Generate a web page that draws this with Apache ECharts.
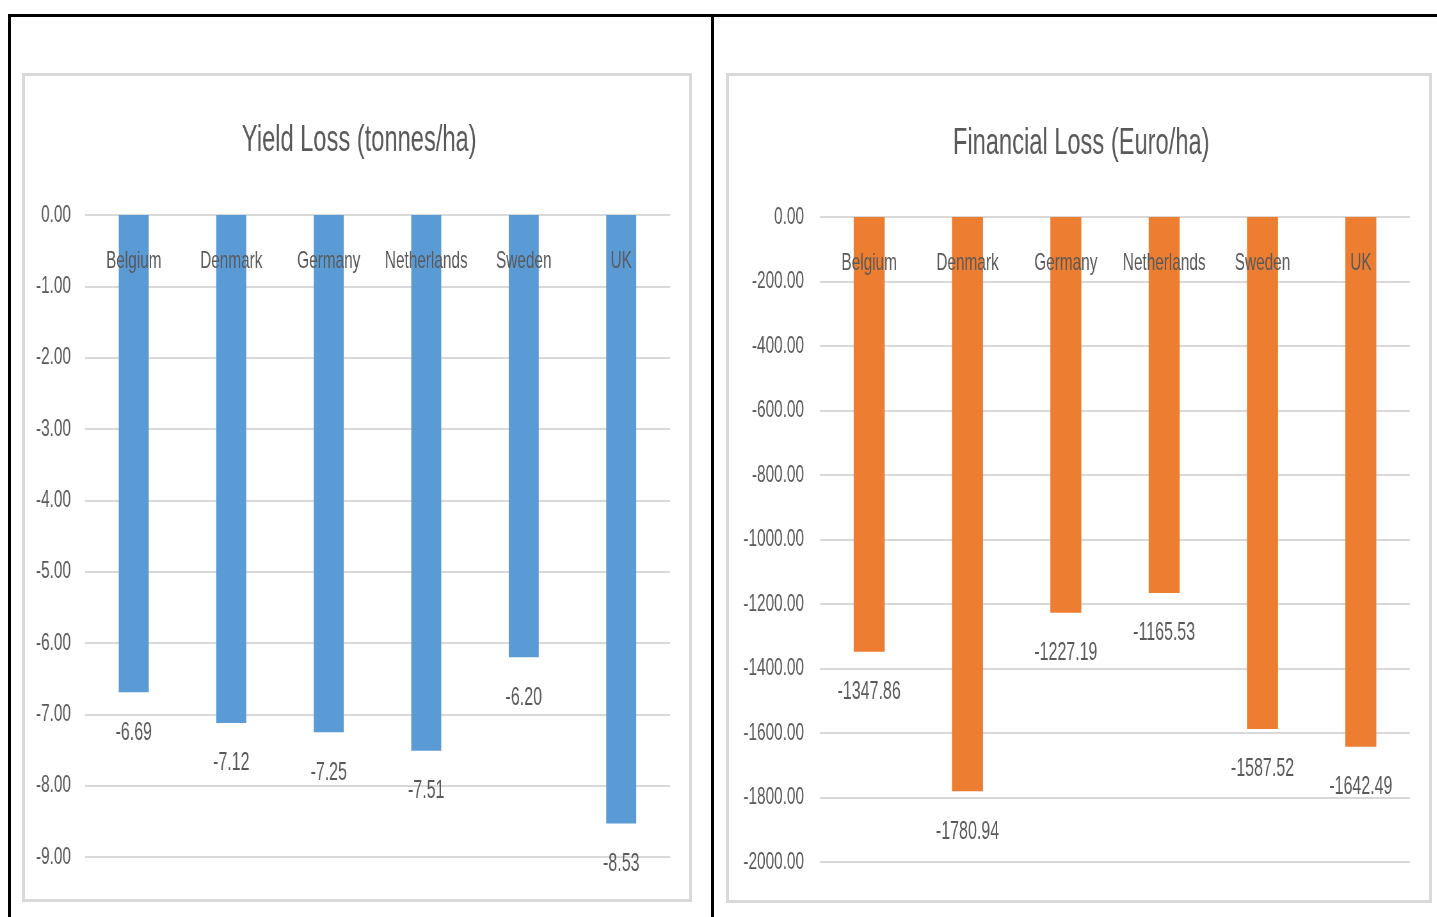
<!DOCTYPE html>
<html>
<head>
<meta charset="utf-8">
<script src="https://cdn.jsdelivr.net/npm/echarts@6/dist/echarts.min.js"></script>
<style>
  html, body { margin: 0; padding: 0; width: 1437px; height: 917px; overflow: hidden; background: #fff; }
  .rule { position: absolute; background: #000; }
  .panel { position: absolute; box-sizing: border-box; border: 3px solid #d9d9d9; background: #fff; }
  #chart { position: absolute; left: 0; top: 0; width: 2245px; height: 917px; transform: scaleX(0.64); transform-origin: 0 0; }
</style>
</head>
<body>
<div class="panel" style="left:22px;top:73px;width:670px;height:829px;"></div>
<div class="panel" style="left:726px;top:73px;width:706px;height:830px;"></div>
<div id="chart"></div>
<div class="rule" style="left:8px;top:14px;width:1429px;height:3px;"></div>
<div class="rule" style="left:8px;top:14px;width:3px;height:903px;"></div>
<div class="rule" style="left:711px;top:14px;width:3px;height:903px;"></div>
<script>
// Countries compared in both panels
const countries = ['Belgium', 'Denmark', 'Germany', 'Netherlands', 'Sweden', 'UK'];
// Yield loss per country, tonnes per hectare
const yieldLoss = [-6.69, -7.12, -7.25, -7.51, -6.20, -8.53];
// Financial loss per country, euro per hectare
const financialLoss = [-1347.86, -1780.94, -1227.19, -1165.53, -1587.52, -1642.49];
// Axis ranges
const yieldAxis = { min: -9, max: 0, interval: 1 };
const financeAxis = { min: -2000, max: 0, interval: 200 };

// The drawing is laid out wide and condensed horizontally by CSS (scaleX 0.64)
const SX = 0.64;
const px = v => v / SX;

const TEXT = '#595959';
const FONT = "'Liberation Sans', Arial, sans-serif";
const GRID_LINE = '#d9d9d9';

// Category axis sits on the zero line (top of the grid); names hang below it, over the bars
function catAxis(gridIndex) {
  return {
    type: 'category', gridIndex, data: countries, position: 'top', z: 10,
    axisLine: { show: false, onZero: false },
    axisTick: { show: false },
    axisLabel: { inside: true, interval: 0, margin: 34, color: TEXT, fontSize: 24, fontFamily: FONT }
  };
}
function valAxis(gridIndex, range, margin) {
  return {
    type: 'value', gridIndex, min: range.min, max: range.max, interval: range.interval,
    axisLine: { show: false }, axisTick: { show: false },
    splitLine: { lineStyle: { color: GRID_LINE, width: 2 } },
    axisLabel: { margin, color: TEXT, fontSize: 24, fontFamily: FONT, formatter: v => v.toFixed(2) }
  };
}
function barSeries(idx, data, color, width) {
  return {
    type: 'bar', xAxisIndex: idx, yAxisIndex: idx, data, barWidth: width,
    itemStyle: { color },
    label: {
      show: true, position: 'bottom', distance: 28,
      color: TEXT, fontSize: 25, fontFamily: FONT,
      formatter: p => p.value.toFixed(2)
    }
  };
}

const chart = echarts.init(document.getElementById('chart'), null, { width: 2245, height: 917 });
chart.setOption({
  animation: false,
  title: [
    { text: 'Yield Loss (tonnes/ha)', left: px(356), textAlign: 'center', top: 117,
      textStyle: { color: TEXT, fontSize: 37, fontWeight: 'normal', fontFamily: FONT } },
    { text: 'Financial Loss (Euro/ha)', left: px(1078), textAlign: 'center', top: 120,
      textStyle: { color: TEXT, fontSize: 37, fontWeight: 'normal', fontFamily: FONT } }
  ],
  grid: [
    { left: px(85), width: px(585), top: 215, bottom: 60 },
    { left: px(820), width: px(590), top: 217, bottom: 55 }
  ],
  xAxis: [catAxis(0), catAxis(1)],
  yAxis: [valAxis(0, yieldAxis, px(14)), valAxis(1, financeAxis, px(16))],
  series: [
    barSeries(0, yieldLoss, '#5b9bd5', px(30)),
    barSeries(1, financialLoss, '#ed7d31', px(31))
  ]
});
</script>
</body>
</html>
